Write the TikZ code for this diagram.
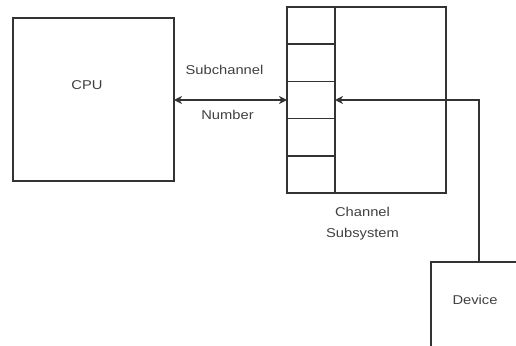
\documentclass[tikz,border=0pt]{standalone}
\usepackage{fontspec}
\setmainfont[FakeStretch=1.15]{Liberation Sans}
\usetikzlibrary{arrows.meta,positioning}
\definecolor{linegray}{HTML}{333333}
\definecolor{textgray}{HTML}{404040}
\tikzset{
  unit/.style={draw=linegray, line width=2pt, outer sep=0pt, inner sep=0pt, anchor=north west},
  slot/.style={draw=linegray, line width=1.5pt, outer sep=0pt, inner sep=0pt,
    minimum width=48pt, minimum height=37.2pt, anchor=north west},
  lbl/.style={text=textgray, font=\fontsize{12.8}{14}\selectfont},
  link/.style={draw=linegray, line width=1.5pt, >={Stealth[length=8pt,width=8pt,inset=2.5pt]}}
}
\begin{document}
\begin{tikzpicture}[x=1pt,y=-1pt]
\useasboundingbox (0,0) rectangle (516,345);
\clip (0,0) rectangle (516,345);
% cpu
\node[unit, minimum width=161pt, minimum height=163pt] (cpu) at (13,18) {};
\node[lbl] (cpulbl) at (87,85) {CPU};
% channel subsystem with its subchannel slots
\foreach \i in {1,...,5}
  \node[slot] (s\i) at (287,{7+37.2*(\i-1)}) {};
\node[unit, minimum width=159pt, minimum height=186pt] (chan) at (287,7) {};
\draw[linegray, line width=2pt] (s1.north east) -- (s5.south east);
\node[lbl, font=\fontsize{12.8}{21}\selectfont, align=center, below=11pt of chan, xshift=-4pt] (chanlbl) {Channel\\Subsystem};
% device
\node[unit, minimum width=96pt, minimum height=86pt] (dev) at (431,262) {};
\node[lbl] (devlbl) at (475,300) {Device};
% connectors
\draw[link,<->] (cpu.east |- s3.west) -- (s3.west)
  node[lbl, midway, above=21pt, xshift=-6pt] (sublbl) {Subchannel}
  node[lbl, midway, below=6pt, xshift=-3pt] (numlbl) {Number};
\draw[link,->] (dev.north) |- (s3.east);
\end{tikzpicture}
\end{document}
